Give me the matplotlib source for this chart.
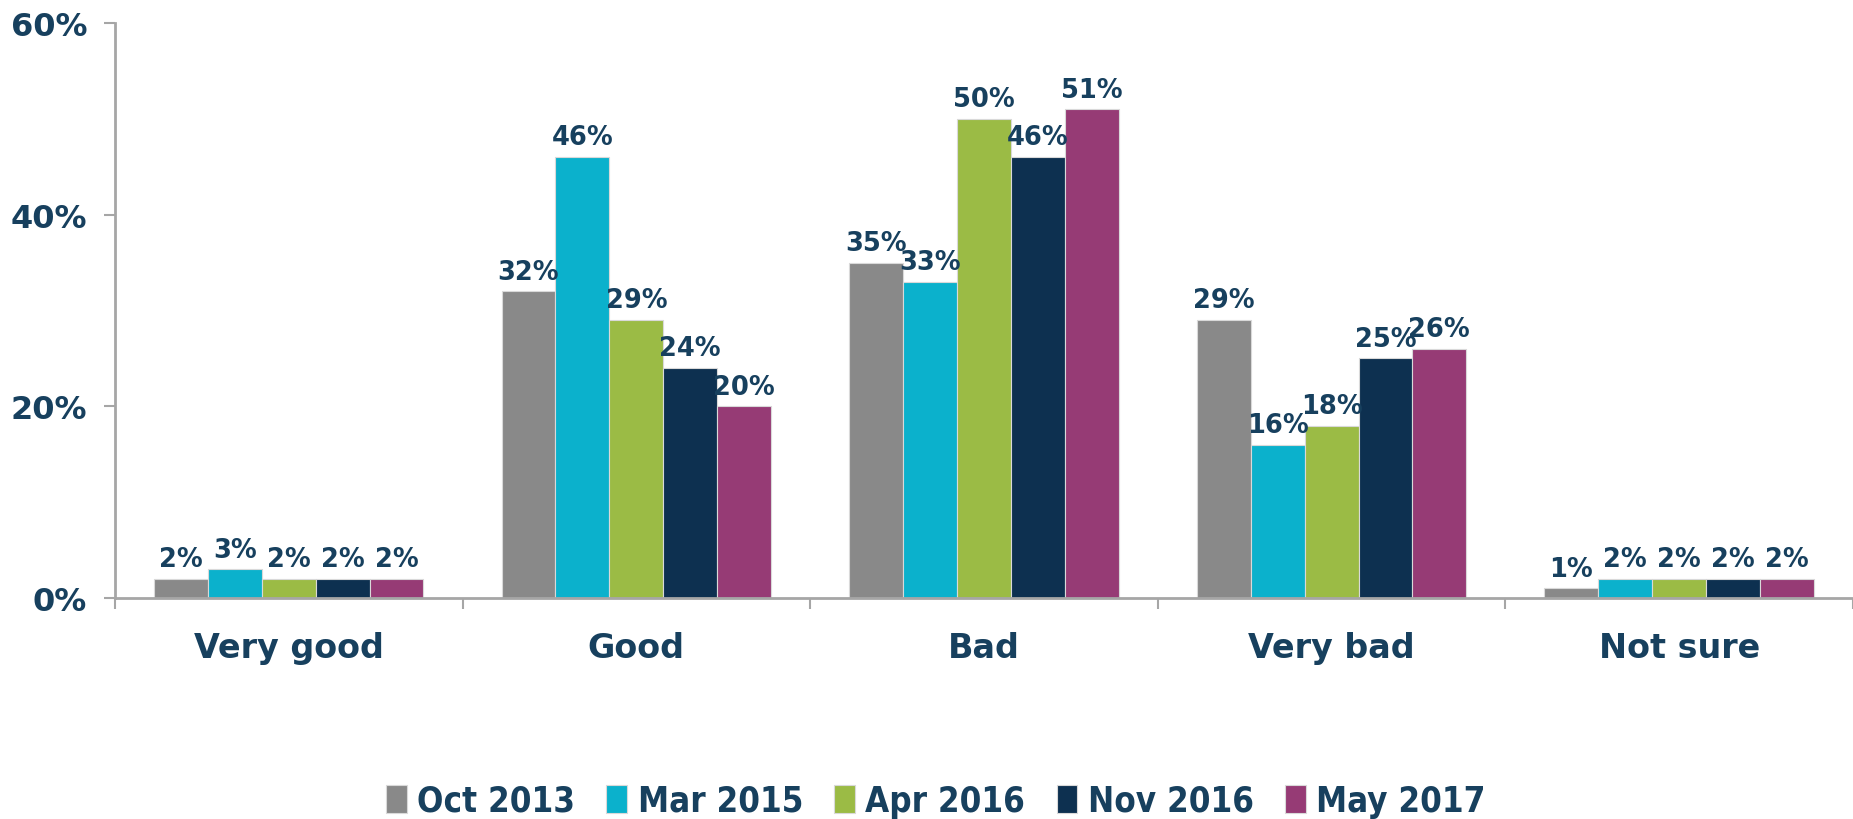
import matplotlib
matplotlib.use("AGG")
import matplotlib.pyplot as plt
import numpy as np

categories = ["Very good", "Good", "Bad", "Very bad", "Not sure"]
series = ["Oct 2013", "Mar 2015", "Apr 2016", "Nov 2016", "May 2017"]
oct_2013 = [2, 32, 35, 29, 1]
mar_2015 = [3, 46, 33, 16, 2]
apr_2016 = [2, 29, 50, 18, 2]
nov_2016 = [2, 24, 46, 25, 2]
may_2017 = [2, 20, 51, 26, 2]
colors = ["#898989", "#0BB1CC", "#9BBB45", "#0D3050", "#963B75"]
text_color = "#17405E"
axis_color = "#A6A6A6"

values = [oct_2013, mar_2015, apr_2016, nov_2016, may_2017]

fig = plt.figure(figsize=(18.53, 8.2), dpi=100)
ax = fig.add_axes([0.062, 0.2695, 0.938, 0.7012])

x = np.arange(len(categories))
bar_w = 0.155
for i, (name, vals) in enumerate(zip(series, values)):
    pos = x + (i - 2) * bar_w
    bars = ax.bar(pos, vals, bar_w, color=colors[i], label=name,
                  edgecolor="#D9D9D9", linewidth=0.8, zorder=2)
    for b, v in zip(bars, vals):
        ax.text(b.get_x() + b.get_width() / 2, v + 0.7, f"{v}%",
                ha="center", va="bottom", fontsize=18.5, color=text_color,
                fontweight="bold")

ax.set_xlim(-0.5, len(categories) - 0.5)
ax.set_ylim(0, 60)
ax.set_yticks([0, 20, 40, 60])
ax.set_yticklabels(["0%", "20%", "40%", "60%"])
ax.set_xticks(x)
ax.set_xticklabels(categories)
ax.set_xticks(np.arange(len(categories) + 1) - 0.5, minor=True)

for side in ["top", "right"]:
    ax.spines[side].set_visible(False)
for side in ["left", "bottom"]:
    ax.spines[side].set_color(axis_color)
    ax.spines[side].set_linewidth(2)

ax.tick_params(axis="y", colors=axis_color, labelcolor=text_color,
               labelsize=23, length=8, width=1.5, pad=12)
ax.tick_params(axis="x", which="major", length=0, labelcolor=text_color,
               labelsize=24, pad=24)
ax.tick_params(axis="x", which="minor", length=8, width=1.5, colors=axis_color)
for lbl in ax.get_xticklabels() + ax.get_yticklabels():
    lbl.set_fontweight("bold")

leg = fig.legend(loc="center", bbox_to_anchor=(0.505, 0.022), ncol=5,
                 frameon=False, handlelength=0.6, handleheight=0.9,
                 handletextpad=0.3, columnspacing=0.9,
                 prop={"size": 25, "weight": "bold", "stretch": "condensed"})
for t in leg.get_texts():
    t.set_color(text_color)

plt.savefig("out.png", dpi=100)
plt.close()
